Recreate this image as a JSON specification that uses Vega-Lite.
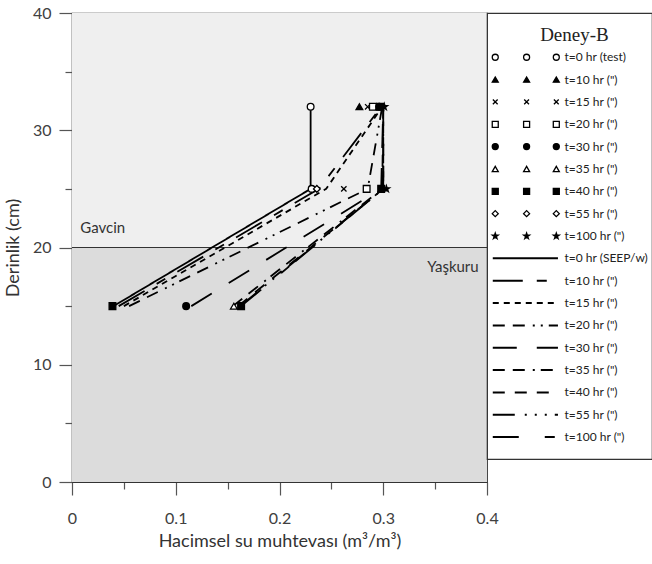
{
  "$schema": "https://vega.github.io/schema/vega-lite/v6.json",
  "background": "white",
  "padding": {"left": 3, "top": 4, "right": 0, "bottom": 5},
  "spacing": 0,
  "bounds": "flush",
  "datasets": {
    "zones": [{"zone": "Gavcin"}],
    "points": [
      {"series": "P0", "theta": 0.23, "depth": 32},
      {"series": "P0", "theta": 0.231, "depth": 25},
      {"series": "P10", "theta": 0.277, "depth": 32},
      {"series": "P15", "theta": 0.285, "depth": 32},
      {"series": "P15", "theta": 0.262, "depth": 25},
      {"series": "P20", "theta": 0.29, "depth": 32},
      {"series": "P20", "theta": 0.284, "depth": 25},
      {"series": "P30", "theta": 0.296, "depth": 32},
      {"series": "P30", "theta": 0.11, "depth": 15},
      {"series": "P35", "theta": 0.296, "depth": 32},
      {"series": "P35", "theta": 0.156, "depth": 15},
      {"series": "P55", "theta": 0.236, "depth": 25},
      {"series": "P40", "theta": 0.297, "depth": 32},
      {"series": "P40", "theta": 0.298, "depth": 25},
      {"series": "P40", "theta": 0.039, "depth": 15},
      {"series": "P40", "theta": 0.163, "depth": 15},
      {"series": "P100", "theta": 0.301, "depth": 32},
      {"series": "P100", "theta": 0.303, "depth": 25}
    ],
    "lines": [
      {"series": "L0", "theta": 0.23, "depth": 32},
      {"series": "L0", "theta": 0.23, "depth": 25},
      {"series": "L0", "theta": 0.04, "depth": 15},
      {"series": "L10", "theta": 0.298, "depth": 32},
      {"series": "L10", "theta": 0.238, "depth": 25},
      {"series": "L10", "theta": 0.045, "depth": 15},
      {"series": "L15", "theta": 0.299, "depth": 32},
      {"series": "L15", "theta": 0.245, "depth": 25},
      {"series": "L15", "theta": 0.05, "depth": 15},
      {"series": "L20", "theta": 0.299, "depth": 32},
      {"series": "L20", "theta": 0.285, "depth": 25},
      {"series": "L20", "theta": 0.055, "depth": 15},
      {"series": "L30", "theta": 0.3, "depth": 32},
      {"series": "L30", "theta": 0.298, "depth": 25},
      {"series": "L30", "theta": 0.115, "depth": 15},
      {"series": "L35", "theta": 0.3, "depth": 32},
      {"series": "L35", "theta": 0.299, "depth": 25},
      {"series": "L35", "theta": 0.155, "depth": 15},
      {"series": "L40", "theta": 0.3, "depth": 32},
      {"series": "L40", "theta": 0.3, "depth": 25},
      {"series": "L40", "theta": 0.16, "depth": 15},
      {"series": "L55", "theta": 0.3, "depth": 32},
      {"series": "L55", "theta": 0.3, "depth": 25},
      {"series": "L55", "theta": 0.162, "depth": 15},
      {"series": "L100", "theta": 0.3, "depth": 32},
      {"series": "L100", "theta": 0.3, "depth": 25},
      {"series": "L100", "theta": 0.163, "depth": 15}
    ],
    "legendTitle": [{"series": "title", "label": "Deney-B"}],
    "legendPoints": [
      {"series": "P0", "label": "t=0 hr (test)"},
      {"series": "P10", "label": "t=10 hr (\")"},
      {"series": "P15", "label": "t=15 hr (\")"},
      {"series": "P20", "label": "t=20 hr (\")"},
      {"series": "P30", "label": "t=30 hr (\")"},
      {"series": "P35", "label": "t=35 hr (\")"},
      {"series": "P40", "label": "t=40 hr (\")"},
      {"series": "P55", "label": "t=55 hr (\")"},
      {"series": "P100", "label": "t=100 hr (\")"}
    ],
    "legendLines": [
      {"series": "L0", "label": "t=0 hr (SEEP/w)"},
      {"series": "L10", "label": "t=10 hr (\")"},
      {"series": "L15", "label": "t=15 hr (\")"},
      {"series": "L20", "label": "t=20 hr (\")"},
      {"series": "L30", "label": "t=30 hr (\")"},
      {"series": "L35", "label": "t=35 hr (\")"},
      {"series": "L40", "label": "t=40 hr (\")"},
      {"series": "L55", "label": "t=55 hr (\")"},
      {"series": "L100", "label": "t=100 hr (\")"}
    ]
  },
  "config": {
    "view": {"stroke": "#333", "strokeWidth": 1.2},
    "axis": {
      "labelFont": "Lato",
      "labelFontSize": 16,
      "labelColor": "#404040",
      "titleFont": "Lato",
      "titleFontSize": 18,
      "titleFontWeight": "normal",
      "titleColor": "#333",
      "domainColor": "#333",
      "tickColor": "#555",
      "tickWidth": 1.2,
      "grid": false
    }
  },
  "hconcat": [
    {
      "width": 415,
      "height": 469,
      "layer": [
        {
          "data": {"name": "zones"},
          "mark": {"type": "rect", "fill": "#efefef"},
          "encoding": {
            "x": {"datum": 0, "type": "quantitative",
              "scale": {"domain": [0, 0.4], "nice": false},
              "axis": {
                "title": "Hacimsel su muhtevası (m³/m³)",
                "values": [0, 0.05, 0.1, 0.15, 0.2, 0.25, 0.3, 0.35, 0.4],
                "labelExpr": "round(datum.value*100) % 10 === 0 ? (datum.value === 0 ? '0' : format(datum.value, '.1f')) : ''",
                "tickSize": {"condition": {"test": "round(datum.value*100) % 10 === 0", "value": 13}, "value": 7},
                "labelPadding": 15,
                "titlePadding": 6,
                "labelFlush": false
              }
            },
            "x2": {"datum": 0.4},
            "y": {"datum": 20, "type": "quantitative",
              "scale": {"domain": [0, 40], "nice": false},
              "axis": {
                "title": "Derinlik (cm)",
                "values": [0, 5, 10, 15, 20, 25, 30, 35, 40],
                "labelExpr": "datum.value % 10 === 0 ? datum.label : ''",
                "tickSize": {"condition": {"test": "datum.value % 10 === 0", "value": 13}, "value": 7},
                "labelPadding": 8,
                "titlePadding": 10
              }
            },
            "y2": {"datum": 40}
          }
        },
        {
          "data": {"name": "zones"},
          "mark": {"type": "rect", "fill": "#dcdcdc"},
          "encoding": {
            "x": {"datum": 0, "type": "quantitative"},
            "x2": {"datum": 0.4},
            "y": {"datum": 0, "type": "quantitative"},
            "y2": {"datum": 20}
          }
        },
        {
          "data": {"name": "zones"},
          "mark": {"type": "rule", "color": "#333", "strokeWidth": 1},
          "encoding": {"y": {"datum": 20, "type": "quantitative"}}
        },
        {
          "data": {"name": "zones"},
          "mark": {"type": "text", "text": "Gavcin", "align": "left", "baseline": "middle", "font": "Lato", "fontSize": 15, "color": "#333"},
          "encoding": {"x": {"datum": 0.008, "type": "quantitative"}, "y": {"datum": 21.7, "type": "quantitative"}}
        },
        {
          "data": {"name": "zones"},
          "mark": {"type": "text", "text": "Yaşkuru", "align": "right", "baseline": "middle", "font": "Lato", "fontSize": 15, "color": "#333"},
          "encoding": {"x": {"datum": 0.392, "type": "quantitative"}, "y": {"datum": 18.3, "type": "quantitative"}}
        },
        {
          "data": {"name": "lines"},
          "mark": {"type": "line", "color": "black", "strokeWidth": 1.8},
          "encoding": {
            "x": {"field": "theta", "type": "quantitative"},
            "y": {"field": "depth", "type": "quantitative"},
            "order": {"field": "depth"},
            "strokeDash": {"field": "series", "type": "nominal",
              "scale": {
                "domain": ["L0", "L10", "L15", "L20", "L30", "L35", "L40", "L55", "L100"],
                "range": [[1, 0], [30, 14, 10, 14], [6, 5], [12, 8, 12, 8, 2, 6, 2, 6], [24, 20], [12, 8, 12, 8, 2, 6], [12, 10], [22, 10, 2, 8, 2, 8, 2, 8], [26, 26, 10, 8]]
              },
              "legend": null}
          }
        },
        {
          "data": {"name": "points"},
          "mark": {"type": "point", "stroke": "black", "strokeWidth": 1.3, "opacity": 1, "size": 45},
          "encoding": {
            "x": {"field": "theta", "type": "quantitative"},
            "y": {"field": "depth", "type": "quantitative"},
            "shape": {"field": "series", "type": "nominal",
              "scale": {
                "domain": ["P0", "P10", "P15", "P20", "P30", "P35", "P40", "P55", "P100"],
                "range": ["circle", "triangle-up", "M-0.8,-0.8L0.8,0.8M0.8,-0.8L-0.8,0.8", "square", "circle", "triangle-up", "square", "diamond", "M0,-1L0.2245,-0.309L0.951,-0.309L0.363,0.118L0.588,0.809L0,0.382L-0.588,0.809L-0.363,0.118L-0.951,-0.309L-0.2245,-0.309Z"]
              },
              "legend": null},
            "fill": {"field": "series", "type": "nominal",
              "scale": {
                "domain": ["P0", "P10", "P15", "P20", "P30", "P35", "P40", "P55", "P100"],
                "range": ["white", "black", "black", "white", "black", "white", "black", "white", "black"]
              },
              "legend": null}
          }
        }
      ]
    },
    {
      "width": 165,
      "height": 446,
      "encoding": {
        "y": {"field": "series", "type": "ordinal",
          "scale": {"type": "point", "padding": 0.98,
            "domain": ["title", "P0", "P10", "P15", "P20", "P30", "P35", "P40", "P55", "P100", "L0", "L10", "L15", "L20", "L30", "L35", "L40", "L55", "L100"]},
          "axis": null}
      },
      "layer": [
        {
          "data": {"name": "legendTitle"},
          "mark": {"type": "text", "font": "Liberation Serif", "fontSize": 19, "align": "center", "baseline": "middle", "color": "#222"},
          "encoding": {
            "x": {"datum": 0.53, "type": "quantitative", "scale": {"domain": [0, 1]}, "axis": null},
            "text": {"field": "label"}
          }
        },
        {
          "data": {"name": "legendPoints"},
          "mark": {"type": "point", "stroke": "black", "strokeWidth": 1.3, "opacity": 1, "size": 36},
          "encoding": {
            "x": {"datum": 0.05, "type": "quantitative"},
            "shape": {"field": "series", "type": "nominal", "legend": null},
            "fill": {"field": "series", "type": "nominal", "legend": null}
          }
        },
        {
          "data": {"name": "legendPoints"},
          "mark": {"type": "point", "stroke": "black", "strokeWidth": 1.3, "opacity": 1, "size": 36},
          "encoding": {
            "x": {"datum": 0.24, "type": "quantitative"},
            "shape": {"field": "series", "type": "nominal", "legend": null},
            "fill": {"field": "series", "type": "nominal", "legend": null}
          }
        },
        {
          "data": {"name": "legendPoints"},
          "mark": {"type": "point", "stroke": "black", "strokeWidth": 1.3, "opacity": 1, "size": 36},
          "encoding": {
            "x": {"datum": 0.42, "type": "quantitative"},
            "shape": {"field": "series", "type": "nominal", "legend": null},
            "fill": {"field": "series", "type": "nominal", "legend": null}
          }
        },
        {
          "data": {"name": "legendPoints"},
          "mark": {"type": "text", "font": "Lato", "fontSize": 12, "align": "left", "baseline": "middle", "color": "#222"},
          "encoding": {
            "x": {"datum": 0.47, "type": "quantitative"},
            "text": {"field": "label"}
          }
        },
        {
          "data": {"name": "legendLines"},
          "mark": {"type": "rule", "color": "black", "strokeWidth": 2},
          "encoding": {
            "x": {"datum": 0.035, "type": "quantitative"},
            "x2": {"datum": 0.43},
            "strokeDash": {"field": "series", "type": "nominal", "legend": null}
          }
        },
        {
          "data": {"name": "legendLines"},
          "mark": {"type": "text", "font": "Lato", "fontSize": 12, "align": "left", "baseline": "middle", "color": "#222"},
          "encoding": {
            "x": {"datum": 0.47, "type": "quantitative"},
            "text": {"field": "label"}
          }
        }
      ]
    }
  ]
}
